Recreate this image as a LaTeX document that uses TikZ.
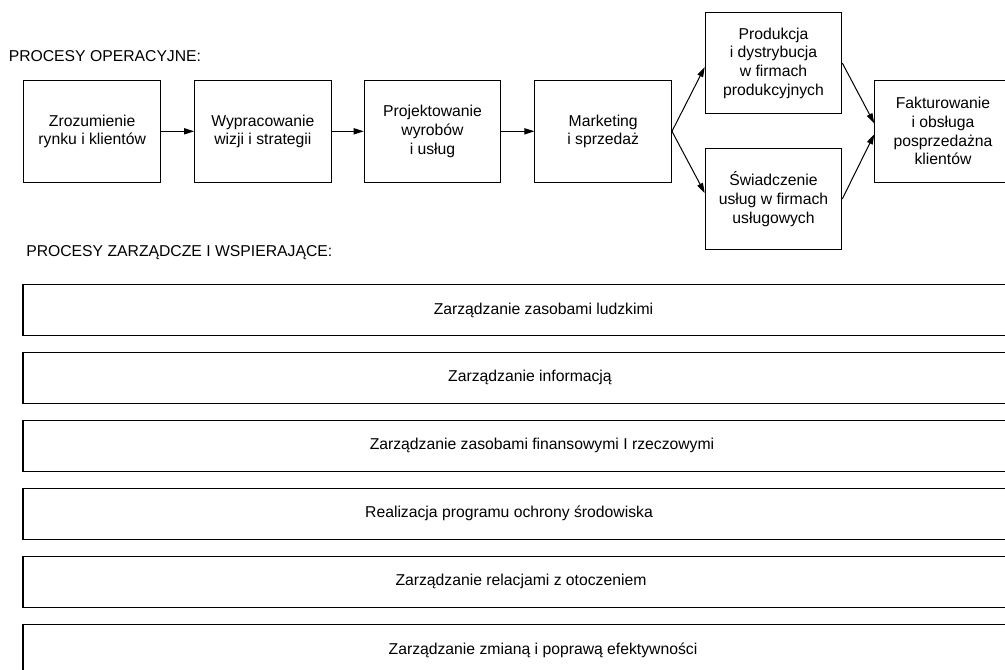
\documentclass[tikz,border=0pt]{standalone}
\usepackage{fontspec}
\setmainfont{Liberation Sans}
\usetikzlibrary{arrows.meta,calc}

\begin{document}
\begin{tikzpicture}[
  x=0.75pt, y=-0.75pt,
  every node/.style={font=\fontsize{11.8pt}{14pt}\selectfont},
  procbox/.style={draw=black, line width=0.75pt, rectangle, inner sep=0pt,
    minimum width=102.4pt, minimum height=76.1pt, align=center},
  suppbar/.style={draw=black, line width=0.9pt, rectangle, inner sep=0pt,
    minimum width=780pt, minimum height=38.2pt},
  heading/.style={anchor=base west, inner sep=0pt},
  flow/.style={draw=black, line width=0.75pt,
    -{Triangle[length=7.5pt,width=4.6pt]}},
]
\useasboundingbox (0,0) rectangle (1005,669);
\clip (0,0) rectangle (1005,669);

% operational processes
\node[heading] (hop) at (8.5,61) {PROCESY OPERACYJNE:};

\node[procbox] (b1) at (92.2,131.3) {Zrozumienie\\rynku i klientów};
\node[procbox] (b2) at (262.9,131.3) {Wypracowanie\\wizji i strategii};
\node[procbox] (b3) at (432.5,131.3) {Projektowanie\\wyrobów\\i usług};
\node[procbox] (b4) at (603.2,131.3) {Marketing\\i sprzedaż};
\node[procbox] (b5) at (773.5,63) {Produkcja\\i dystrybucja\\w firmach\\produkcyjnych};
\node[procbox] (b6) at (773.5,199) {Świadczenie\\usług w firmach\\usługowych};
\node[procbox] (b7) at (943,131.3) {Fakturowanie\\i obsługa\\posprzedażna\\klientów};

\draw[flow] (b1.east) -- (b2.west);
\draw[flow] (b2.east) -- (b3.west);
\draw[flow] (b3.east) -- (b4.west);
\draw[flow] (b4.east) -- ($(b5.west)+(0,4)$);
\draw[flow] (b4.east) -- ($(b6.west)+(0,-6)$);
\draw[flow] (b5.east) -- ($(b7.west)+(0,-8)$);
\draw[flow] (b6.east) -- ($(b7.west)+(0,3)$);

% management and support processes
\node[heading] (hzw) at (26,256.5) {PROCESY ZARZĄDCZE I WSPIERAJĄCE:};

\node[suppbar] (s1) at (543,310.2) {};
\node[suppbar] (s2) at (543,377.8) {};
\node[suppbar] (s3) at (543,445.7) {};
\node[suppbar] (s4) at (543,513.8) {};
\node[suppbar] (s5) at (543,581.9) {};
\node[suppbar] (s6) at (543,650.2) {};

\node (t1) at ($(s1.center)+(0.5,0)$) {Zarządzanie zasobami ludzkimi};
\node (t2) at ($(s2.center)+(-13,0)$) {Zarządzanie informacją};
\node (t3) at ($(s3.center)+(-1,0)$) {Zarządzanie zasobami finansowymi I rzeczowymi};
\node (t4) at ($(s4.center)+(-34,0)$) {Realizacja programu ochrony środowiska};
\node (t5) at ($(s5.center)+(-22,0)$) {Zarządzanie relacjami z otoczeniem};
\node (t6) at ($(s6.center)+(0,0)$) {Zarządzanie zmianą i poprawą efektywności};
\end{tikzpicture}
\end{document}
